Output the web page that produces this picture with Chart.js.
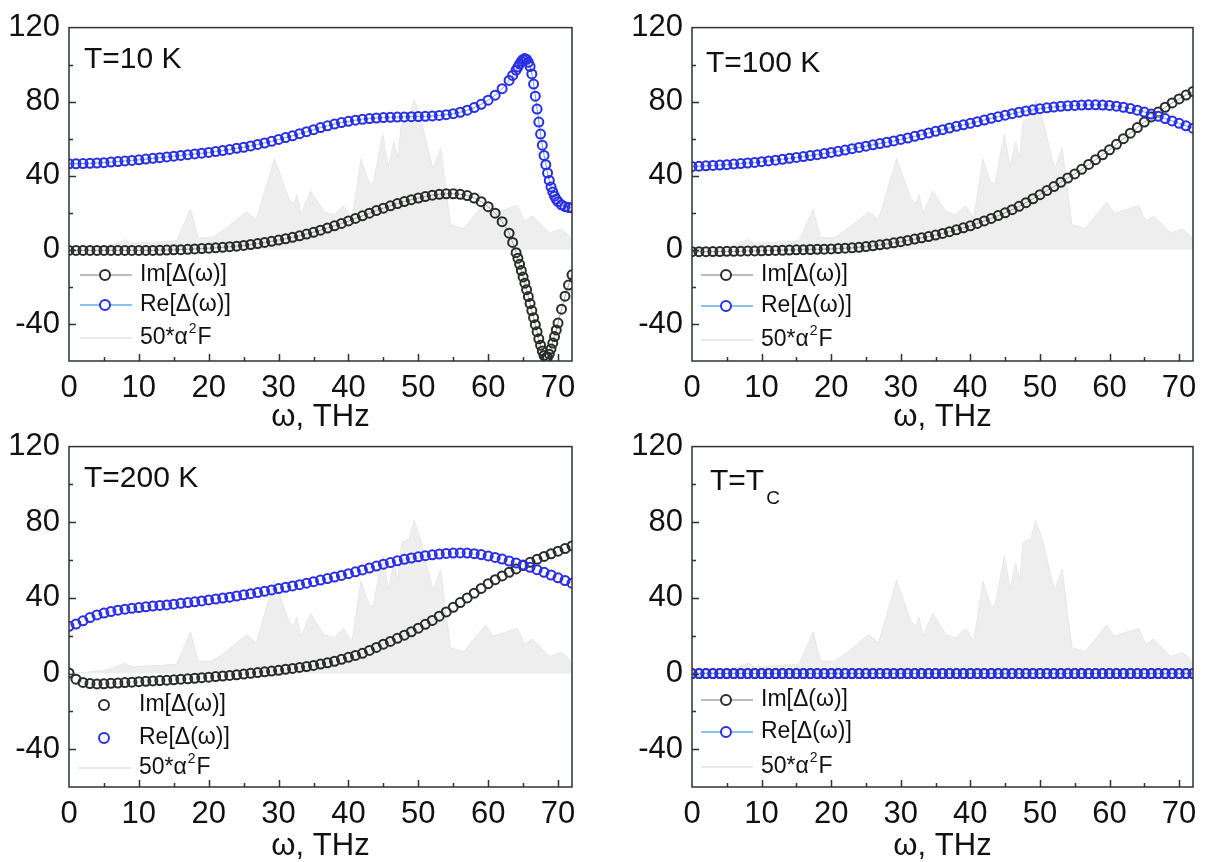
<!DOCTYPE html>
<html>
<head>
<meta charset="utf-8">
<script src="https://cdn.jsdelivr.net/npm/chart.js@4.4.0/dist/chart.umd.min.js"></script>
<style>
  body { margin: 0; background: #fff; width: 1209px; height: 862px; overflow: hidden; position: relative; }
  .panel { position: absolute; }
</style>
</head>
<body>
<div class="panel" style="left:0;top:0;width:604px;height:440px"><canvas id="c10"></canvas></div>
<div class="panel" style="left:623px;top:0;width:586px;height:440px"><canvas id="c100"></canvas></div>
<div class="panel" style="left:0;top:419px;width:604px;height:443px"><canvas id="c200"></canvas></div>
<div class="panel" style="left:623px;top:419px;width:586px;height:443px"><canvas id="cTc"></canvas></div>
<script>
// tick labels
const xTicks = [0, 10, 20, 30, 40, 50, 60, 70];
const yTicks = [-40, 0, 40, 80, 120];

// 50*a2F (same in every panel)
const a2fOmega = [0, 2, 5, 8.1, 9, 14.8, 15.4, 17.4, 18.5, 20.4, 22.6, 25.4, 26.8, 29.4, 31.5, 32.2, 32.6, 33.2,
  34.6, 36.5, 37.9, 39.3, 40.5, 41.8, 42.9, 43.5, 44.9, 45.7, 46.5, 47.1, 47.6, 48.7, 49.4, 50.4, 52.1, 53.2,
  54.6, 56.5, 59.6, 60.7, 64.2, 65.2, 66.3, 68.8, 70.5, 71.6, 72];
const a2fValue = [0, 0.5, 1.5, 5.5, 3.5, 4.8, 5, 22, 6.5, 6.5, 12, 20.6, 16.3, 49.4, 27.5, 25, 30, 19.7,
  31.8, 20.6, 18.9, 23.7, 17.2, 48.9, 36.9, 35.2, 62.7, 44.6, 58.4, 49.8, 69.5, 71.2, 81, 70.4, 43.8, 55,
  13.7, 11.5, 25.8, 19.7, 24, 15.5, 18.4, 9.1, 11.2, 7.7, 4];

// T = 10 K (finer steps where the curves are steep)
const omega10 = [0, 1, 2, 3, 4, 5, 6, 7, 8, 9, 10, 11, 12, 13, 14, 15, 16, 17, 18, 19, 20, 21, 22, 23, 24, 25,
  26, 27, 28, 29, 30, 31, 32, 33, 34, 35, 36, 37, 38, 39, 40, 41, 42, 43, 44, 45, 46, 47, 48, 49, 50, 51, 52,
  53, 54, 55, 56, 57, 58, 59, 60, 61, 62, 63, 63.5, 64, 64.25, 64.5, 64.75, 65, 65.25, 65.5, 65.75, 66, 66.25,
  66.5, 66.75, 67, 67.25, 67.5, 67.75, 68, 68.25, 68.5, 68.75, 69, 69.25, 69.5, 69.75, 70, 70.5, 71, 71.5, 72];
const re10 = [46.5, 46.5, 46.6, 46.7, 46.9, 47.1, 47.4, 47.7, 48.0, 48.3,
  48.6, 49.0, 49.4, 49.8, 50.2, 50.6, 51.0, 51.4, 51.8, 52.2,
  52.6, 53.1, 53.6, 54.2, 54.8, 55.4, 56.1, 56.9, 57.7, 58.6,
  59.6, 60.6, 61.6, 62.7, 63.8, 64.9, 66.0, 67.0, 67.9, 68.7,
  69.4, 70.0, 70.5, 70.9, 71.2, 71.4, 71.6, 71.7, 71.8, 71.9,
  72.0, 72.1, 72.3, 72.6, 73.0, 73.5, 74.3, 75.4, 76.8, 78.6,
  80.8, 83.5, 87.0, 91.5, 94.2, 97.0, 98.7, 100.3, 101.8, 102.8, 103.3, 102.8, 101.3, 99.0, 95.0,
  89.5, 83.0, 76.0, 69.0, 62.5, 56.5, 51.0, 46.0, 41.5, 37.5, 34.0, 31.3, 29.0, 27.3, 26.0, 24.3, 23.3, 22.9, 22.7];
const im10 = [-0.3, -0.3, -0.3, -0.3, -0.3, -0.3, -0.3, -0.3, -0.3, -0.3,
  -0.3, -0.3, -0.3, -0.2, -0.1, 0, 0.1, 0.3, 0.5, 0.7,
  0.9, 1.1, 1.4, 1.7, 2.0, 2.4, 2.9, 3.4, 4.0, 4.6,
  5.3, 6.0, 6.8, 7.6, 8.5, 9.5, 10.6, 11.8, 13.0, 14.3,
  15.6, 17.0, 18.4, 19.8, 21.2, 22.5, 23.8, 25.0, 26.1, 27.1,
  28.0, 28.8, 29.5, 30.0, 30.3, 30.3, 30.0, 29.3, 28.0, 26.0,
  23.3, 19.8, 15.2, 9.0, 4.0, -1.5, -4.5, -7.8, -11.2, -14.6, -18.0, -21.5, -25.2, -29.0, -32.8,
  -36.6, -40.4, -44.2, -48.0, -51.5, -54.6, -57.0, -58.3, -58.0, -56.3, -53.5, -50.3, -46.8, -43.2, -39.5,
  -32.0, -25.0, -19.0, -13.5];

// other temperatures, one value per THz
const omegaGrid = [0, 1, 2, 3, 4, 5, 6, 7, 8, 9, 10, 11, 12, 13, 14, 15, 16, 17, 18, 19, 20, 21, 22, 23, 24,
  25, 26, 27, 28, 29, 30, 31, 32, 33, 34, 35, 36, 37, 38, 39, 40, 41, 42, 43, 44, 45, 46, 47, 48, 49, 50, 51,
  52, 53, 54, 55, 56, 57, 58, 59, 60, 61, 62, 63, 64, 65, 66, 67, 68, 69, 70, 71, 72];
const re100 = [45.0, 45.2, 45.4, 45.6, 45.8, 46.0, 46.3, 46.6, 46.9, 47.2,
  47.6, 48.0, 48.4, 48.9, 49.4, 49.9, 50.4, 50.9, 51.4, 52.0,
  52.6, 53.2, 53.9, 54.6, 55.3, 56.0, 56.7, 57.4, 58.1, 58.8,
  59.6, 60.4, 61.3, 62.2, 63.1, 64.0, 64.9, 65.8, 66.7, 67.5,
  68.3, 69.2, 70.1, 71.0, 71.9, 72.7, 73.5, 74.3, 75.0, 75.6,
  76.2, 76.7, 77.1, 77.5, 77.8, 78.0, 78.2, 78.3, 78.3, 78.2,
  78.0, 77.6, 77.0, 76.3, 75.4, 74.4, 73.3, 72.1, 70.9, 69.6,
  68.3, 67.0, 65.7];
const im100 = [-1.0, -1.0, -1.0, -0.9, -0.9, -0.8, -0.8, -0.7, -0.6, -0.6,
  -0.5, -0.4, -0.3, -0.2, -0.1, 0, 0.1, 0.2, 0.3, 0.4,
  0.5, 0.7, 0.9, 1.1, 1.4, 1.8, 2.2, 2.7, 3.2, 3.8,
  4.4, 5.1, 5.8, 6.5, 7.2, 8.0, 8.9, 9.8, 10.8, 11.9,
  13.0, 14.3, 15.6, 17.0, 18.5, 20.0, 21.7, 23.5, 25.5, 27.6,
  29.8, 32.0, 34.2, 36.5, 38.8, 41.0, 43.5, 46.1, 48.7, 51.3,
  54.0, 57.0, 60.0, 63.0, 66.0, 69.0, 71.8, 74.4, 77.0, 79.3,
  81.5, 83.6, 85.5];
const re200 = [25.0, 26.2, 27.9, 29.6, 31.0, 32.0, 32.8, 33.5, 34.0, 34.5,
  34.9, 35.3, 35.7, 36.0, 36.3, 36.7, 37.1, 37.5, 37.9, 38.4,
  38.9, 39.4, 39.9, 40.4, 41.0, 41.6, 42.2, 42.8, 43.5, 44.2,
  44.9, 45.6, 46.3, 47.0, 47.8, 48.6, 49.4, 50.2, 51.0, 51.9,
  52.8, 53.8, 54.8, 55.8, 56.8, 57.8, 58.7, 59.6, 60.4, 61.1,
  61.7, 62.3, 62.8, 63.2, 63.5, 63.7, 63.8, 63.7, 63.4, 62.9,
  62.2, 61.4, 60.5, 59.5, 58.5, 57.4, 56.2, 54.9, 53.5, 52.1,
  50.6, 49.2, 47.8];
const im200 = [0.3, -3.0, -4.7, -5.3, -5.5, -5.4, -5.2, -5.0, -4.8, -4.6,
  -4.3, -4.1, -3.9, -3.7, -3.5, -3.3, -3.0, -2.8, -2.5, -2.2,
  -1.9, -1.6, -1.3, -1.0, -0.7, -0.3, 0.1, 0.5, 0.9, 1.3,
  1.7, 2.2, 2.7, 3.2, 3.7, 4.3, 5.0, 5.7, 6.5, 7.5,
  8.6, 9.6, 10.7, 12.2, 13.8, 15.5, 17.0, 18.6, 20.3, 22.1,
  24.0, 26.0, 28.1, 30.3, 32.6, 35.0, 37.5, 40.0, 42.5, 45.0,
  47.5, 49.6, 51.6, 53.5, 55.3, 57.1, 58.8, 60.4, 61.9, 63.3,
  64.7, 66.1, 67.5];
const reTc = [0, 0, 0, 0, 0, 0, 0, 0, 0, 0, 0, 0, 0, 0, 0, 0, 0, 0, 0, 0, 0, 0, 0, 0, 0, 0, 0, 0, 0, 0, 0, 0, 0, 0, 0, 0, 0,
  0, 0, 0, 0, 0, 0, 0, 0, 0, 0, 0, 0, 0, 0, 0, 0, 0, 0, 0, 0, 0, 0, 0, 0, 0, 0, 0, 0, 0, 0, 0, 0, 0, 0, 0, 0];
const imTc = [0, 0, 0, 0, 0, 0, 0, 0, 0, 0, 0, 0, 0, 0, 0, 0, 0, 0, 0, 0, 0, 0, 0, 0, 0, 0, 0, 0, 0, 0, 0, 0, 0, 0, 0, 0, 0,
  0, 0, 0, 0, 0, 0, 0, 0, 0, 0, 0, 0, 0, 0, 0, 0, 0, 0, 0, 0, 0, 0, 0, 0, 0, 0, 0, 0, 0, 0, 0, 0, 0, 0, 0, 0];

const FONT = '"Liberation Sans", Arial, sans-serif';
const IM_COLOR = '#2a2e2a';
const RE_COLOR = '#2a2fe2';
const IM_LINE = '#a3a7a3';
const RE_LINE = '#62aee8';
const A2F_FILL = '#eeeeee';

function pts(xs, ys) {
  return xs.map((x, i) => ({ x: x, y: ys[i] }));
}

// frame, inward ticks, panel label and legend
const decor = {
  id: 'decor',
  afterDraw(chart, args, o) {
    const ctx = chart.ctx, a = chart.chartArea;
    const xs = chart.scales.x, ys = chart.scales.y;
    ctx.save();
    ctx.strokeStyle = '#2e332e';
    ctx.lineWidth = 1.5;
    ctx.strokeRect(a.left, a.top, a.right - a.left, a.bottom - a.top);
    ctx.beginPath();
    for (let v = 5; v <= 70; v += 5) {
      const px = Math.round(xs.getPixelForValue(v)) + 0.5;
      ctx.moveTo(px, a.bottom);
      ctx.lineTo(px, a.bottom - (v % 10 === 0 ? 7 : 4));
    }
    for (let v = -40; v <= 100; v += 20) {
      const py = Math.round(ys.getPixelForValue(v)) + 0.5;
      ctx.moveTo(a.left, py);
      ctx.lineTo(a.left + (v % 40 === 0 ? 7 : 4), py);
    }
    ctx.stroke();

    // panel label
    ctx.fillStyle = '#111';
    ctx.textBaseline = 'middle';
    ctx.textAlign = 'left';
    ctx.font = '30px ' + FONT;
    const tx = a.left + o.titleDx, ty = a.top + o.titleDy;
    ctx.fillText(o.title, tx, ty);
    if (o.titleSub) {
      const w = ctx.measureText(o.title).width;
      ctx.font = '19px ' + FONT;
      ctx.fillText(o.titleSub, tx + w + 2, ty + 17);
    }

    // legend
    const items = [
      { label: 'Im[Δ(ω)]', marker: IM_COLOR, line: IM_LINE },
      { label: 'Re[Δ(ω)]', marker: RE_COLOR, line: RE_LINE },
      { label: '50*α', sup: '2', tail: 'F', marker: null, line: '#e3e3e3' }
    ];
    items.forEach((it, i) => {
      const y = a.bottom + o.legendDy[i];
      if (o.legendLines || !it.marker) {
        ctx.strokeStyle = it.line;
        ctx.lineWidth = 1.5;
        ctx.beginPath();
        ctx.moveTo(a.left + o.legendDx, y);
        ctx.lineTo(a.left + o.legendDx + 52, y);
        ctx.stroke();
      }
      if (it.marker) {
        ctx.strokeStyle = it.marker;
        ctx.fillStyle = '#fff';
        ctx.lineWidth = 2;
        ctx.beginPath();
        ctx.arc(a.left + o.legendDx + 25, y, 5, 0, Math.PI * 2);
        ctx.fill();
        ctx.stroke();
      }
      ctx.fillStyle = '#111';
      ctx.font = '23px ' + FONT;
      let x = a.left + o.legendDx + 60;
      ctx.fillText(it.label, x, y);
      if (it.sup) {
        x += ctx.measureText(it.label).width + 1;
        ctx.font = '14px ' + FONT;
        ctx.fillText(it.sup, x, y - 9);
        x += ctx.measureText(it.sup).width + 1;
        ctx.font = '23px ' + FONT;
        ctx.fillText(it.tail, x, y);
      }
    });
    ctx.restore();
  }
};

function makePanel(id, omega, re, im, p) {
  const datasets = [
    {
      label: '50*α2F', data: pts(a2fOmega, a2fValue), order: 3,
      borderColor: '#e8e8e8', borderWidth: 1, backgroundColor: A2F_FILL,
      fill: 'origin', pointRadius: 0, tension: 0
    },
    {
      label: 'Im[Δ(ω)]', data: pts(omega, im), order: 2,
      showLine: p.lines, borderColor: IM_LINE, borderWidth: 1, tension: 0.3,
      pointRadius: 4.5, pointBorderWidth: 2, pointBorderColor: IM_COLOR,
      pointBackgroundColor: 'rgba(0,0,0,0)', fill: false
    },
    {
      label: 'Re[Δ(ω)]', data: pts(omega, re), order: 1,
      showLine: p.lines, borderColor: RE_LINE, borderWidth: 1, tension: 0.3,
      pointRadius: 4.5, pointBorderWidth: 2, pointBorderColor: RE_COLOR,
      pointBackgroundColor: 'rgba(0,0,0,0)', fill: false
    }
  ];
  return new Chart(document.getElementById(id), {
    type: 'line',
    data: { datasets: datasets },
    plugins: [decor],
    options: {
      responsive: true,
      maintainAspectRatio: false,
      animation: false,
      events: [],
      devicePixelRatio: 1,
      layout: { padding: { left: 0, right: p.padRight, top: 18, bottom: 0 } },
      plugins: {
        legend: { display: false },
        tooltip: { enabled: false },
        decor: p
      },
      scales: {
        x: {
          type: 'linear', min: 0, max: 72,
          afterBuildTicks: s => { s.ticks = xTicks.map(v => ({ value: v })); },
          afterFit: s => { s.height = p.xHeight; },
          grid: { display: false, drawTicks: false },
          border: { display: false },
          ticks: { color: '#111', font: { size: 31, family: FONT }, padding: 9, maxRotation: 0 },
          title: {
            display: true, text: 'ω, THz', color: '#111',
            font: { size: 31, family: FONT, lineHeight: 1 },
            padding: { top: 0, bottom: p.titlePad }
          }
        },
        y: {
          type: 'linear', min: -60, max: 120,
          afterBuildTicks: s => { s.ticks = yTicks.map(v => ({ value: v })); },
          afterFit: s => { s.width = 69; },
          grid: { display: false, drawTicks: false },
          border: { display: false },
          ticks: { color: '#111', font: { size: 31, family: FONT }, padding: 9 }
        }
      }
    }
  });
}

makePanel('c10', omega10, re10, im10, {
  title: 'T=10 K', titleDx: 15, titleDy: 32, lines: true, legendLines: true,
  legendDx: 11, legendDy: [-86, -56, -23], padRight: 32, xHeight: 79, titlePad: 7
});
makePanel('c100', omegaGrid, re100, im100, {
  title: 'T=100 K', titleDx: 14, titleDy: 36, lines: true, legendLines: true,
  legendDx: 9, legendDy: [-86, -55, -21], padRight: 16, xHeight: 79, titlePad: 7
});
makePanel('c200', omegaGrid, re200, im200, {
  title: 'T=200 K', titleDx: 15, titleDy: 32, lines: false, legendLines: false,
  legendDx: 10, legendDy: [-82, -49, -19], padRight: 32, xHeight: 75, titlePad: 0
});
makePanel('cTc', omegaGrid, reTc, imTc, {
  title: 'T=T', titleSub: 'C', titleDx: 18, titleDy: 35, lines: true, legendLines: true,
  legendDx: 9, legendDy: [-87, -55, -20], padRight: 16, xHeight: 75, titlePad: 0
});
</script>
</body>
</html>
